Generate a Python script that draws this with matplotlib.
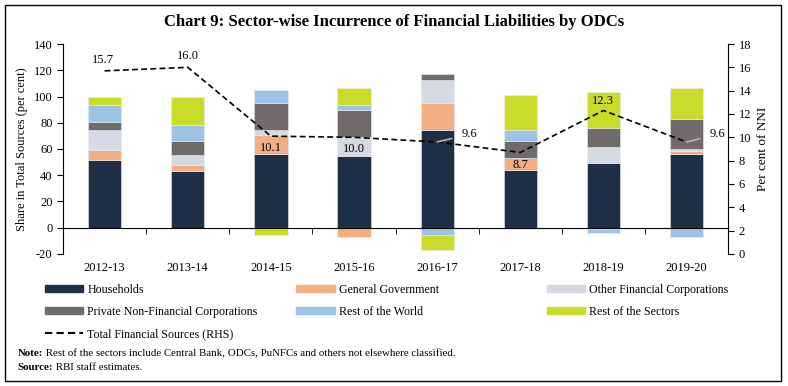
import numpy as np
import matplotlib.pyplot as plt
from matplotlib.patches import Patch, Rectangle
from matplotlib.lines import Line2D

plt.rcParams['font.family'] = ['Liberation Serif', 'DejaVu Serif']
plt.rcParams['axes.unicode_minus'] = False

years = ['2012-13', '2013-14', '2014-15', '2015-16', '2016-17', '2017-18', '2018-19', '2019-20']
households = [51.6, 43.5, 56.5, 54.4, 74.4, 44.1, 49.7, 56.1]
general_govt = [7.3, 4.1, 14.1, -7.1, 21.0, 8.9, -0.8, 2.5]
other_fin = [15.7, 7.8, 4.1, 14.5, 17.3, -1.2, 12.2, 1.3]
private_nfc = [5.6, 10.4, 20.7, 20.5, 4.4, 13.2, 14.4, 22.8]
rest_world = [13.4, 12.2, 9.7, 4.0, -5.8, 8.4, -3.2, -7.4]
rest_sectors = [6.0, 21.7, -5.6, 13.2, -11.2, 26.7, 27.5, 24.1]
total_sources = [15.7, 16.0, 10.1, 10.0, 9.6, 8.7, 12.3, 9.6]

series = [
    ('Households', households, '#1f2f45'),
    ('General Government', general_govt, '#f4ae84'),
    ('Other Financial Corporations', other_fin, '#d4d9e2'),
    ('Private Non-Financial Corporations', private_nfc, '#6f6b6b'),
    ('Rest of the World', rest_world, '#9dc3e6'),
    ('Rest of the Sectors', rest_sectors, '#c9dc2a'),
]

fig = plt.figure(figsize=(7.88, 3.86), dpi=100)
ax = fig.add_axes([0.080, 0.342, 0.844, 0.544])
x = np.arange(len(years))

# stacked bars, positives up and negatives down
pos = np.zeros(len(years))
neg = np.zeros(len(years))
for name, vals, col in series:
    v = np.array(vals)
    bottom = np.where(v >= 0, pos, neg)
    ax.bar(x, v, 0.4, bottom=bottom, color=col, edgecolor='#e8ecf0', linewidth=0.4)
    pos = pos + np.where(v >= 0, v, 0)
    neg = neg + np.where(v < 0, v, 0)

ax.set_xlim(-0.5, 7.5)
ax.set_ylim(-20, 140)
ax.set_yticks(range(-20, 141, 20))
ax.spines['top'].set_visible(False)
ax.spines['right'].set_visible(False)
ax.spines['bottom'].set_position(('data', 0))
ax.set_xticks(x)
ax.set_xticklabels(years)
ax.set_xticks(np.arange(-0.5, 8, 1), minor=True)
ax.tick_params(axis='x', which='major', length=0, pad=25, labelsize=9)
ax.tick_params(axis='x', which='minor', length=4, direction='out')
ax.tick_params(axis='y', labelsize=9, length=4)
ax.set_ylabel('Share in Total Sources (per cent)', fontsize=9)

ax2 = ax.twinx()
ax2.set_ylim(0, 18)
ax2.set_yticks(range(0, 19, 2))
ax2.spines['top'].set_visible(False)
ax2.spines['bottom'].set_visible(False)
ax2.spines['left'].set_visible(False)
ax2.tick_params(axis='y', labelsize=9, length=4)
ax2.set_ylabel('Per cent of NNI', fontsize=9.5)
ax2.plot(x, total_sources, color='black', linestyle=(0, (3.5, 2)), linewidth=1.2)

# data labels of the line
offsets = [(-1, 8), (0, 8), (0, -8.5), (0, -8.5), (23, 5.5), (0, -9), (0, 7), (22, 5.5)]
for i, v in enumerate(total_sources):
    dx, dy = offsets[i]
    if i in (4, 7):
        ax2.annotate(f'{v:.1f}', (x[i], v), xytext=(dx, dy), textcoords='offset points',
                     ha='center', va='center', fontsize=9,
                     arrowprops=dict(arrowstyle='-', color='#c0c0c0', lw=1.1, shrinkA=5, shrinkB=0))
    else:
        ax2.annotate(f'{v:.1f}', (x[i], v), xytext=(dx, dy), textcoords='offset points',
                     ha='center', va='center', fontsize=9)

fig.text(0.5, 0.943, 'Chart 9: Sector-wise Incurrence of Financial Liabilities by ODCs',
         ha='center', va='center', fontsize=12, fontweight='bold')

# legend in three columns
handles = [Patch(color=c, label=n) for n, v, c in series]
handles.append(Line2D([], [], color='black', linestyle=(0, (3.5, 2)), linewidth=1.5,
                      label='Total Financial Sources (RHS)'))
cols = [[handles[0], handles[3], handles[6]], [handles[1], handles[4]], [handles[2], handles[5]]]
xpos = [0.057, 0.376, 0.694]
for hs, xp in zip(cols, xpos):
    fig.legend(handles=hs, loc='upper left', bbox_to_anchor=(xp, 0.265), frameon=False,
               fontsize=8.6, handlelength=3.2, handleheight=0.6, labelspacing=0.85,
               borderpad=0, borderaxespad=0, handletextpad=0.35)

note = fig.text(0.022, 0.083, 'Note:', fontsize=7.8, fontweight='bold', va='center')
ax.annotate(' Rest of the sectors include Central Bank, ODCs, PuNFCs and others not elsewhere classified.',
            xy=(1, 0.5), xycoords=note, va='center', fontsize=7.8, annotation_clip=False)
src = fig.text(0.022, 0.047, 'Source:', fontsize=7.8, fontweight='bold', va='center')
ax.annotate(' RBI staff estimates.', xy=(1, 0.5), xycoords=src, va='center', fontsize=7.8,
            annotation_clip=False)

fig.patches.append(Rectangle((0.006, 0.013), 0.985, 0.975, transform=fig.transFigure,
                             fill=False, edgecolor='black', linewidth=1))

fig.savefig('out.png', dpi=100)
